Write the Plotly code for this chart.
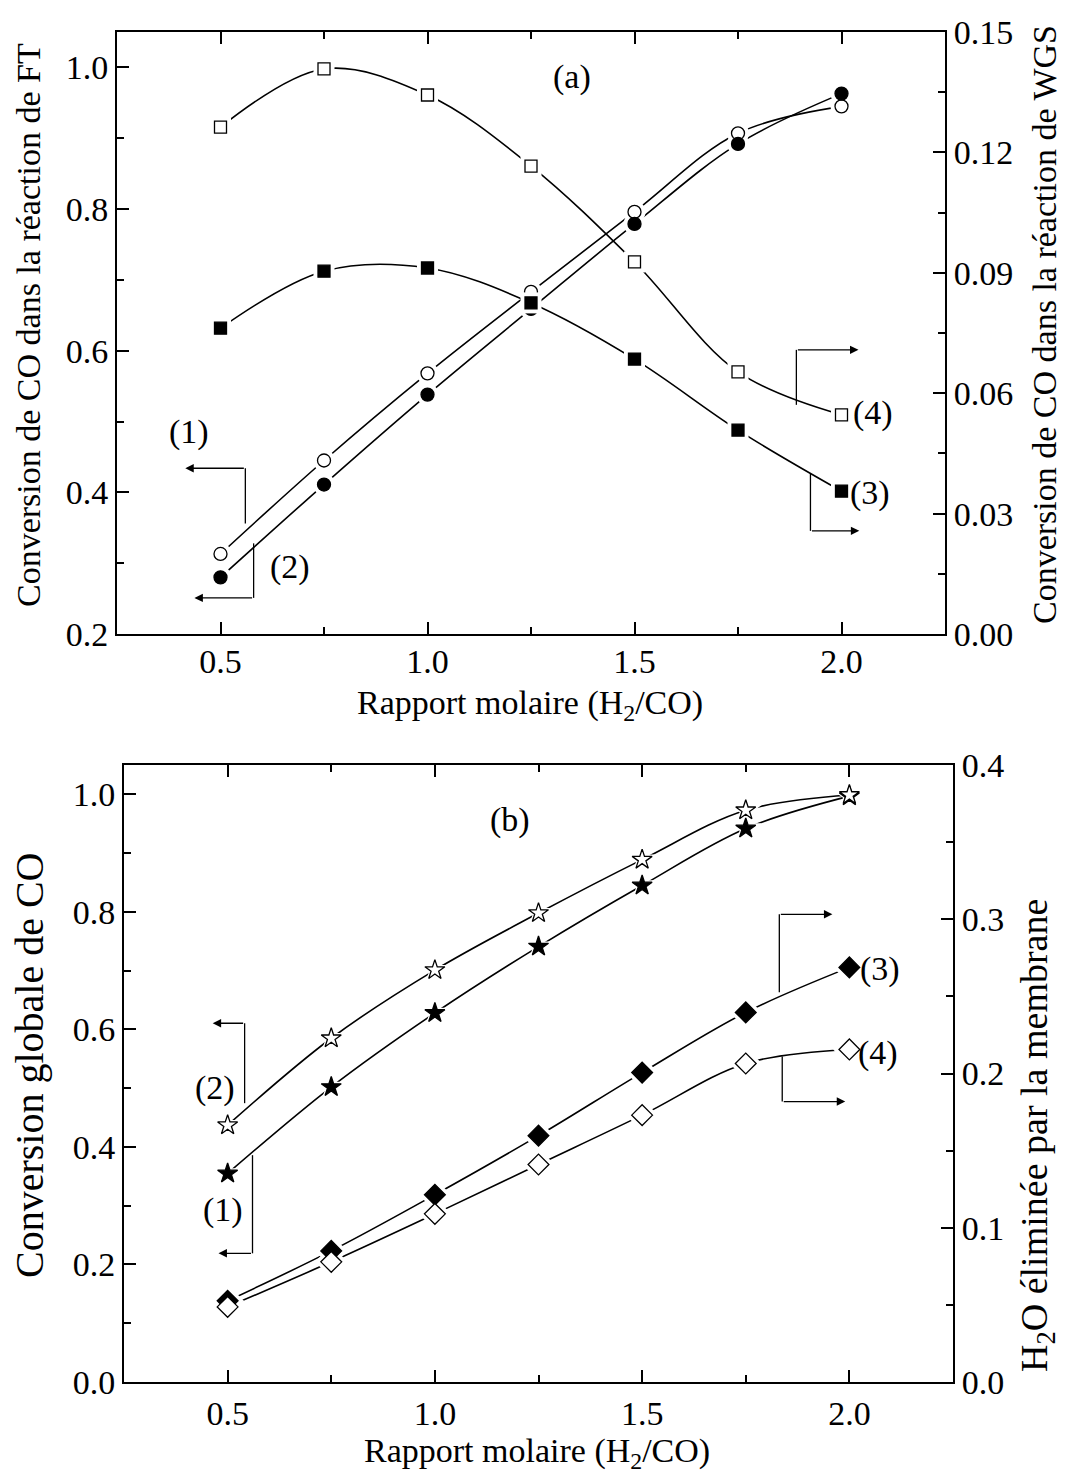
import plotly.graph_objects as go

W, H = 1065, 1478
FONT = "Liberation Serif"

# ---------------- data ----------------
ratio = [0.5, 0.75, 1.0, 1.25, 1.5, 1.75, 2.0]

# panel (a)
a_ft_open = [0.313, 0.445, 0.568, 0.683, 0.796, 0.907, 0.945]      # (1) open circles, left axis
a_ft_filled = [0.280, 0.411, 0.538, 0.659, 0.779, 0.892, 0.963]    # (2) filled circles, left axis
a_wgs_filled = [0.0762, 0.0904, 0.0912, 0.0825, 0.0685, 0.0508, 0.0356]  # (3) filled squares, right axis
a_wgs_open = [0.1263, 0.1408, 0.1343, 0.1166, 0.0927, 0.0653, 0.0546]    # (4) open squares, right axis

# panel (b)
b_conv_filled = [0.355, 0.502, 0.628, 0.741, 0.845, 0.942, 0.997]  # (1) filled stars, left axis
b_conv_open = [0.437, 0.585, 0.701, 0.798, 0.889, 0.973, 0.999]    # (2) open stars, left axis
b_h2o_filled = [0.0526, 0.0850, 0.1214, 0.1597, 0.2006, 0.2396, 0.2688]  # (3) filled diamonds, right axis
b_h2o_open = [0.0487, 0.0779, 0.1090, 0.1410, 0.1730, 0.2065, 0.2156]    # (4) open diamonds, right axis

x_ticks = [0.5, 1.0, 1.5, 2.0]

fig = go.Figure()

series = [
    # (y, xaxis, yaxis, symbol, filled, size)
    (a_ft_open, "x", "y", "circle", False, 13),
    (a_ft_filled, "x", "y", "circle", True, 13),
    (a_wgs_filled, "x", "y2", "square", True, 12),
    (a_wgs_open, "x", "y2", "square", False, 12),
    (b_conv_filled, "x2", "y3", "star", True, 15),
    (b_conv_open, "x2", "y3", "star", False, 15),
    (b_h2o_filled, "x2", "y4", "diamond", True, 16),
    (b_h2o_open, "x2", "y4", "diamond", False, 16),
]

# lines
for ys, xa, ya, sym, filled, sz in series:
    fig.add_trace(go.Scatter(x=ratio, y=ys, xaxis=xa, yaxis=ya, mode="lines",
                             line=dict(color="black", width=1.6, shape="spline", smoothing=1.0),
                             showlegend=False, hoverinfo="skip"))
# white halos (gap between line and symbol)
for ys, xa, ya, sym, filled, sz in series:
    fig.add_trace(go.Scatter(x=ratio, y=ys, xaxis=xa, yaxis=ya, mode="markers",
                             marker=dict(symbol=sym, size=sz + 9, color="white", line=dict(width=0)),
                             showlegend=False, hoverinfo="skip"))
# symbols
for ys, xa, ya, sym, filled, sz in series:
    fig.add_trace(go.Scatter(x=ratio, y=ys, xaxis=xa, yaxis=ya, mode="markers",
                             marker=dict(symbol=sym, size=sz, color="black" if filled else "white",
                                         line=dict(color="black", width=1.3)),
                             showlegend=False))

tickfont = dict(family=FONT, size=34, color="black")


def xax(domain, anchor, standoff):
    return dict(domain=domain, anchor=anchor, range=[0.25, 2.25], tickvals=x_ticks,
                ticktext=[f"{v:.1f}" for v in x_ticks],
                ticks="inside", ticklen=12, tickwidth=2, tickcolor="black",
                minor=dict(ticks="inside", ticklen=7, tickwidth=2, tickcolor="black", dtick=0.25, tick0=0),
                showline=True, linewidth=2, linecolor="black", mirror="ticks",
                showgrid=False, zeroline=False, tickfont=tickfont, automargin=False,
                ticklabelstandoff=standoff)


def yax(domain, anchor, rng, dtick, fmt, side="left", overlaying=None):
    d = dict(domain=domain, anchor=anchor, range=rng, dtick=dtick, tick0=0, tickformat=fmt,
             ticks="inside", ticklen=12, tickwidth=2, tickcolor="black",
             minor=dict(ticks="inside", ticklen=7, tickwidth=2, tickcolor="black", dtick=dtick / 2),
             showline=True, linewidth=2, linecolor="black", side=side,
             showgrid=False, zeroline=False, tickfont=tickfont, automargin=False)
    if overlaying:
        d["overlaying"] = overlaying
    return d


top_x = [117 / W, 945 / W]
top_y = [1 - 634 / H, 1 - 32 / H]
bot_x = [124 / W, 953 / W]
bot_y = [1 - 1382 / H, 1 - 765 / H]

fig.update_layout(
    width=W, height=H, margin=dict(l=0, r=0, t=0, b=0),
    paper_bgcolor="white", plot_bgcolor="white",
    font=dict(family=FONT, color="black"),
    xaxis=xax(top_x, "y", -4),
    yaxis=yax(top_y, "x", [0.2, 1.05], 0.2, ".1f"),
    yaxis2=yax(top_y, "x", [0.0, 0.15], 0.03, ".2f", side="right", overlaying="y"),
    xaxis2=xax(bot_x, "y3", 0),
    yaxis3=yax(bot_y, "x2", [0.0, 1.05], 0.2, ".1f"),
    yaxis4=yax(bot_y, "x2", [0.0, 0.4], 0.1, ".1f", side="right", overlaying="y3"),
)

ann = []
shapes = []
tf = dict(family=FONT, size=34, color="black")


def ptext(text, px, py, angle=0, size=34):
    ann.append(dict(text=text, x=px / W, y=1 - py / H, xref="paper", yref="paper",
                    showarrow=False, textangle=angle, xanchor="center", yanchor="middle",
                    font=dict(family=FONT, size=size, color="black")))


# axis titles
ptext("Conversion de CO dans la réaction de FT", 29, 325, -90, 34)
ptext("Conversion de CO dans la réaction de WGS", 1045, 325, -90, 34)
ptext("Rapport molaire (H<sub>2</sub>/CO)", 530, 705)
ptext("Conversion globale de CO", 29, 1065, -90, 40)
ptext("H<sub>2</sub>O éliminée par la membrane", 1037, 1136, -90, 38)
ptext("Rapport molaire (H<sub>2</sub>/CO)", 537, 1453)


def dtext(text, x, y, xr, yr):
    ann.append(dict(text=text, x=x, y=y, xref=xr, yref=yr, showarrow=False,
                    xanchor="center", yanchor="middle", font=tf))


def bracket(xv, y0, y1, xh, xr, yr):
    # vertical bar from (xv,y0) to (xv,y1), arrow from (xv,y1) to (xh,y1)
    shapes.append(dict(type="line", x0=xv, x1=xv, y0=y0, y1=y1, xref=xr, yref=yr,
                       line=dict(color="black", width=1.3)))
    ann.append(dict(text="", x=xh, y=y1, ax=xv, ay=y1, xref=xr, yref=yr, axref=xr, ayref=yr,
                    showarrow=True, arrowhead=2, arrowsize=1.3, arrowwidth=1.3, arrowcolor="black"))


# panel (a)
dtext("(a)", 1.350, 0.987, "x", "y")
dtext("(1)", 0.425, 0.485, "x", "y")
bracket(0.560, 0.356, 0.434, 0.415, "x", "y")
dtext("(2)", 0.667, 0.294, "x", "y")
bracket(0.580, 0.328, 0.251, 0.437, "x", "y")
dtext("(3)", 2.068, 0.0351, "x", "y2")
bracket(1.925, 0.0399, 0.0257, 2.043, "x", "y2")
dtext("(4)", 2.075, 0.0551, "x", "y2")
bracket(1.891, 0.0571, 0.0708, 2.041, "x", "y2")

# panel (b)
dtext("(b)", 1.181, 0.956, "x2", "y3")
dtext("(2)", 0.469, 0.500, "x2", "y3")
bracket(0.541, 0.4745, 0.6105, 0.464, "x2", "y3")
dtext("(1)", 0.490, 0.2925, "x2", "y3")
bracket(0.560, 0.386, 0.219, 0.478, "x2", "y3")
dtext("(3)", 2.075, 0.2675, "x2", "y4")
bracket(1.831, 0.2526, 0.3032, 1.959, "x2", "y4")
dtext("(4)", 2.068, 0.2136, "x2", "y4")
bracket(1.838, 0.2110, 0.1818, 1.990, "x2", "y4")

fig.update_layout(annotations=ann, shapes=shapes)

fig.write_html("out.html", config={"displayModeBar": False},
               post_script="document.body.style.margin='0';document.body.style.padding='0';")
